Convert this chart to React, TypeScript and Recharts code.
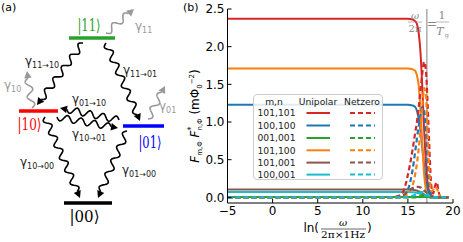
import { LineChart, Line, XAxis, YAxis, ReferenceLine, Legend } from 'recharts';

// ln(omega / 2pi x 1Hz) sample points
const xs = [-5, 0, 5, 10, 13, 14, 14.5, 15, 15.5, 15.8, 16, 16.2, 16.4, 16.6, 16.8, 17, 17.2, 17.4, 17.6, 17.8, 18, 18.2, 18.4, 18.6, 19, 19.5];

// Unipolar (solid)
const uni101_101 = [2.37, 2.37, 2.37, 2.37, 2.37, 2.37, 2.37, 2.37, 2.36, 2.34, 2.3, 2.18, 1.92, 1.45, 0.9, 0.45, 0.18, 0.06, 0.02, 0.01, 0, 0, 0, 0, 0, 0];
const uni100_100 = [1.23, 1.23, 1.23, 1.23, 1.23, 1.23, 1.23, 1.23, 1.22, 1.2, 1.15, 1.05, 0.88, 0.65, 0.42, 0.22, 0.1, 0.04, 0.01, 0, 0, 0, 0, 0, 0, 0];
const uni001_001 = [0.004, 0.004, 0.004, 0.004, 0.004, 0.004, 0.004, 0.004, 0.004, 0.004, 0.004, 0.004, 0.004, 0.004, 0.004, 0.004, 0.004, 0.002, 0, 0, 0, 0, 0, 0, 0, 0];
const uni101_100 = [1.71, 1.71, 1.71, 1.71, 1.71, 1.71, 1.71, 1.71, 1.7, 1.68, 1.62, 1.48, 1.15, 0.7, 0.3, 0.1, 0.03, 0.01, 0, 0, 0, 0, 0, 0, 0, 0];
const uni101_001 = [0.105, 0.105, 0.105, 0.105, 0.105, 0.105, 0.105, 0.105, 0.1, 0.095, 0.09, 0.08, 0.07, 0.055, 0.04, 0.025, 0.015, 0.005, 0, 0, 0, 0, 0, 0, 0, 0];
const uni100_001 = [0.07, 0.07, 0.07, 0.07, 0.07, 0.07, 0.07, 0.07, 0.068, 0.065, 0.06, 0.055, 0.048, 0.04, 0.03, 0.02, 0.01, 0.004, 0, 0, 0, 0, 0, 0, 0, 0];

// Netzero (dashed)
const net101_101 = [0, 0, 0, 0, 0, 0.02, 0.08, 0.3, 0.62, 0.85, 1.0, 1.2, 1.42, 1.65, 1.8, 1.68, 1.2, 0.6, 0.15, 0.05, 0.15, 0.2, 0.08, 0.01, 0, 0];
const net100_100 = [0, 0, 0, 0, 0, 0, 0.02, 0.1, 0.35, 0.6, 0.78, 0.95, 1.1, 1.2, 1.15, 0.85, 0.45, 0.15, 0.03, 0, 0, 0, 0, 0, 0, 0];
const net001_001 = [0, 0, 0, 0, 0, 0, 0, 0, 0, 0, 0.01, 0.015, 0.02, 0.03, 0.03, 0.02, 0.01, 0.005, 0, 0, 0, 0, 0, 0, 0, 0];
const net101_100 = [0, 0, 0, 0, 0, 0, 0, 0.05, 0.15, 0.3, 0.45, 0.65, 0.9, 1.2, 1.45, 1.35, 0.8, 0.3, 0.08, 0.1, 0.14, 0.12, 0.05, 0.01, 0, 0];
const net101_001 = [0, 0, 0, 0, 0, 0.01, 0.03, 0.08, 0.12, 0.135, 0.14, 0.14, 0.13, 0.11, 0.09, 0.07, 0.05, 0.035, 0.02, 0.01, 0, 0, 0, 0, 0, 0];
const net100_001 = [0, 0, 0, 0, 0, 0, 0, 0, 0.02, 0.035, 0.05, 0.06, 0.07, 0.07, 0.06, 0.045, 0.03, 0.015, 0.005, 0, 0, 0, 0, 0, 0, 0];

const pairs = ['101,101', '100,100', '001,001', '101,100', '101,001', '100,001'];
const colors = ['#d62728', '#1f77b4', '#2ca02c', '#ff7f0e', '#8c564b', '#17becf'];
const uniSeries = [uni101_101, uni100_100, uni001_001, uni101_100, uni101_001, uni100_001];
const netSeries = [net101_101, net100_100, net001_001, net101_100, net101_001, net100_001];

const xTicks = [-5, 0, 5, 10, 15, 20];
const yTicks = [0, 0.5, 1, 1.5, 2, 2.5];
const gateFreq = 17.1;

const rows = xs.map((x, i) => {
  const r: Record<string, number> = { x };
  pairs.forEach((_, k) => {
    r['u' + k] = uniSeries[k][i];
    r['n' + k] = netSeries[k][i];
  });
  return r;
});

const tickFont = { fontSize: 12, fill: '#000', fontFamily: 'DejaVu Sans' };

function LegendTable() {
  const rowY = [18, 30.5, 43, 55.3, 67.6, 79.6];
  return (
    <div
      style={{
        width: 130,
        height: 86,
        boxSizing: 'border-box',
        border: '1px solid #cccccc',
        borderRadius: 4,
        background: 'rgba(255,255,255,0.85)',
      }}
    >
      <svg width={128} height={84} style={{ display: 'block' }} fontFamily="DejaVu Sans" fontSize={9.2}>
        <text x={20} y={9.5} textAnchor="middle" fill="#222">m,n</text>
        <text x={64} y={9.5} textAnchor="middle" fill="#222">Unipolar</text>
        <text x={108} y={9.5} textAnchor="middle" fill="#222">Netzero</text>
        {pairs.map((p, k) => (
          <g key={p}>
            <text x={22.5} y={rowY[k] + 3.3} textAnchor="middle" fill="#222">{p}</text>
            <line x1={52.5} x2={76} y1={rowY[k]} y2={rowY[k]} stroke={colors[k]} strokeWidth={2} />
            <line x1={96} x2={121} y1={rowY[k]} y2={rowY[k]} stroke={colors[k]} strokeWidth={2} strokeDasharray="5 3" />
          </g>
        ))}
      </svg>
    </div>
  );
}

function wavy(x0: number, y0: number, x1: number, y1: number, amp = 3.3, wl = 14, head = 7) {
  const dx = x1 - x0;
  const dy = y1 - y0;
  const L = Math.hypot(dx, dy);
  const ux = dx / L;
  const uy = dy / L;
  const nx = -uy;
  const ny = ux;
  const Lw = L - head;
  const halfs = Math.max(2, Math.round((2 * Lw) / wl));
  let d = '';
  const steps = 80;
  for (let i = 0; i <= steps; i++) {
    const t = i / steps;
    const s = t * Lw;
    const off = amp * Math.sin(Math.PI * halfs * t);
    const px = x0 + ux * s + nx * off;
    const py = y0 + uy * s + ny * off;
    d += (i === 0 ? 'M' : 'L') + px.toFixed(2) + ' ' + py.toFixed(2);
  }
  const bx = x1 - ux * head;
  const by = y1 - uy * head;
  const head2 = `M${x1} ${y1}L${(bx + nx * 3.8).toFixed(2)} ${(by + ny * 3.8).toFixed(2)}L${(bx - nx * 3.8).toFixed(2)} ${(by - ny * 3.8).toFixed(2)}Z`;
  return { d, head: head2 };
}

function Arrow({ p, color }: { p: number[]; color: string }) {
  const w = wavy(p[0], p[1], p[2], p[3]);
  return (
    <g>
      <path d={w.d} fill="none" stroke={color} strokeWidth={1.6} />
      <path d={w.head} fill={color} stroke="none" />
    </g>
  );
}

function Gamma({ x, y, sub, color = '#222' }: { x: number; y: number; sub: string; color?: string }) {
  return (
    <text x={x} y={y} fontFamily="DejaVu Sans" fontSize={12} fill={color}>
      γ<tspan fontSize={8} dy={3}>{sub}</tspan>
    </text>
  );
}

function Diagram() {
  return (
    <svg width={463} height={242} style={{ position: 'absolute', left: 0, top: 0, pointerEvents: 'none' }}>
      <text x={1} y={11} fontFamily="DejaVu Sans" fontSize={11} fill="#000">(a)</text>
      <text x={183} y={11} fontFamily="DejaVu Sans" fontSize={11} fill="#000">(b)</text>

      {/* levels */}
      <line x1={69} x2={115} y1={38} y2={38} stroke="#2ca02c" strokeWidth={3.5} />
      <line x1={19} x2={58} y1={111} y2={111} stroke="#ff0000" strokeWidth={3.5} />
      <line x1={123} x2={164} y1={126} y2={126} stroke="#0000ff" strokeWidth={3.5} />
      <line x1={64} x2={112} y1={203} y2={203} stroke="#000" strokeWidth={3.5} />

      <text x={89} y={31} textAnchor="middle" fontFamily="DejaVu Serif" fontSize={16} fill="#2ca02c" textLength={23} lengthAdjust="spacingAndGlyphs">|11⟩</text>
      <text x={29.5} y={130} textAnchor="middle" fontFamily="DejaVu Serif" fontSize={16} fill="#ff0000" textLength={24} lengthAdjust="spacingAndGlyphs">|10⟩</text>
      <text x={150} y={148} textAnchor="middle" fontFamily="DejaVu Serif" fontSize={16} fill="#0000ff" textLength={23} lengthAdjust="spacingAndGlyphs">|01⟩</text>
      <text x={84.5} y={222} textAnchor="middle" fontFamily="DejaVu Serif" fontSize={16} fill="#000" textLength={30} lengthAdjust="spacingAndGlyphs">|00⟩</text>

      {/* decay arrows */}
      <Arrow p={[83, 43, 37, 105]} color="#000" />
      <Arrow p={[106, 43, 140, 121]} color="#000" />
      <Arrow p={[119, 120, 60, 108]} color="#000" />
      <Arrow p={[57, 117, 118, 128]} color="#000" />
      <Arrow p={[45, 117, 80, 198]} color="#000" />
      <Arrow p={[127, 131, 98, 198]} color="#000" />

      <Arrow p={[106, 33, 134, 9]} color="#999" />
      <Arrow p={[32, 108, 27, 71]} color="#999" />
      <Arrow p={[148, 119, 165, 86]} color="#999" />

      <Gamma x={25} y={65} sub="11→10" />
      <Gamma x={123} y={74} sub="11→01" />
      <Gamma x={72} y={103} sub="01→10" />
      <Gamma x={72} y={138} sub="10→01" />
      <Gamma x={20} y={166} sub="10→00" />
      <Gamma x={122} y={174} sub="01→00" />
      <Gamma x={135} y={30} sub="11" color="#999" />
      <Gamma x={4} y={89} sub="10" color="#999" />
      <Gamma x={159} y={110} sub="01" color="#999" />

      {/* y-axis label */}
      <text transform="translate(199,116) rotate(-90)" textAnchor="middle" fontFamily="DejaVu Sans" fontSize={12} fill="#000">
        <tspan fontStyle="italic">F</tspan>
        <tspan fontSize={7} dy={3}>m,Φ</tspan>
        <tspan dy={-3}> </tspan>
        <tspan fontStyle="italic">F</tspan>
        <tspan fontSize={8} dy={-5}>*</tspan>
        <tspan fontSize={7} dx={-4} dy={8}>n,Φ</tspan>
        <tspan dy={-3}> (mΦ</tspan>
        <tspan fontSize={7} dy={3}>0</tspan>
        <tspan fontSize={7} dy={-8}>−2</tspan>
        <tspan dy={5}>)</tspan>
      </text>

      {/* x-axis label */}
      <text x={319} y={232} textAnchor="end" fontFamily="DejaVu Sans" fontSize={12} fill="#000">ln(</text>
      <text x={343} y={226} textAnchor="middle" fontFamily="DejaVu Serif" fontStyle="italic" fontSize={10} fill="#000">ω</text>
      <line x1={321} x2={366} y1={229} y2={229} stroke="#000" strokeWidth={0.6} />
      <text x={343} y={238} textAnchor="middle" fontFamily="DejaVu Serif" fontSize={9} fill="#000" textLength={44} lengthAdjust="spacingAndGlyphs">2π×1Hz</text>
      <text x={367} y={232} fontFamily="DejaVu Sans" fontSize={12} fill="#000">)</text>

      {/* gate frequency annotation */}
      <text x={415} y={19} textAnchor="middle" fontFamily="DejaVu Serif" fontStyle="italic" fontSize={10} fill="#888">ω</text>
      <line x1={408} x2={422} y1={22} y2={22} stroke="#888" strokeWidth={0.6} />
      <text x={415} y={32} textAnchor="middle" fontFamily="DejaVu Serif" fontSize={10} fill="#888">2π</text>
      <text x={432} y={28} textAnchor="middle" fontFamily="DejaVu Serif" fontSize={12} fill="#888">=</text>
      <text x={442} y={19} textAnchor="middle" fontFamily="DejaVu Serif" fontSize={11} fill="#888">1</text>
      <line x1={436} x2={449} y1={22} y2={22} stroke="#888" strokeWidth={0.6} />
      <text x={440} y={35} textAnchor="middle" fontFamily="DejaVu Serif" fontStyle="italic" fontSize={11} fill="#888">T</text>
      <text x={447} y={37} textAnchor="middle" fontFamily="DejaVu Serif" fontSize={6} fill="#888">g</text>
    </svg>
  );
}

export default function App() {
  return (
    <div style={{ position: 'absolute', left: 0, top: 0, width: 463, height: 242, background: '#fff' }}>
      <LineChart width={463} height={242} data={rows} margin={{ top: 9, right: 10, bottom: 9, left: 182 }}>
        <XAxis
          dataKey="x"
          type="number"
          domain={[-5, 20]}
          ticks={xTicks}
          height={30}
          tickSize={-4}
          tickMargin={7}
          tick={tickFont}
          tickFormatter={(v: number) => (v < 0 ? '−' + Math.abs(v) : String(v))}
          stroke="#000"
          axisLine={{ stroke: '#000' }}
          tickLine={{ stroke: '#000' }}
        />
        <XAxis
          xAxisId="top"
          orientation="top"
          type="number"
          domain={[-5, 20]}
          ticks={xTicks}
          height={0}
          tickSize={-4}
          tick={false}
          axisLine={{ stroke: '#000' }}
          tickLine={{ stroke: '#000' }}
        />
        <YAxis
          type="number"
          domain={[-0.075, 2.5]}
          ticks={yTicks}
          width={45.5}
          tickSize={-4}
          tickMargin={7}
          tick={tickFont}
          tickFormatter={(v: number) => v.toFixed(1)}
          axisLine={{ stroke: '#000' }}
          tickLine={{ stroke: '#000' }}
          allowDataOverflow
        />
        <YAxis
          yAxisId="right"
          orientation="right"
          type="number"
          domain={[-0.075, 2.5]}
          ticks={yTicks}
          width={0}
          tickSize={-4}
          tick={false}
          axisLine={{ stroke: '#000' }}
          tickLine={{ stroke: '#000' }}
        />
        <ReferenceLine x={gateFreq} stroke="#aaaaaa" strokeWidth={1.5} />
        {pairs.map((p, k) => (
          <Line
            key={'u' + k}
            dataKey={'u' + k}
            name={p + ' Unipolar'}
            type="monotone"
            stroke={colors[k]}
            strokeWidth={2}
            dot={false}
            isAnimationActive={false}
          />
        ))}
        {pairs.map((p, k) => (
          <Line
            key={'n' + k}
            dataKey={'n' + k}
            name={p + ' Netzero'}
            type="monotone"
            stroke={colors[k]}
            strokeWidth={2.2}
            strokeDasharray="5 3"
            dot={false}
            isAnimationActive={false}
          />
        ))}
        <Legend
          layout="horizontal"
          verticalAlign="middle"
          align="center"
          wrapperStyle={{ left: 253, top: 94, width: 130, height: 86 }}
          content={() => <LegendTable />}
        />
      </LineChart>
      <Diagram />
    </div>
  );
}
